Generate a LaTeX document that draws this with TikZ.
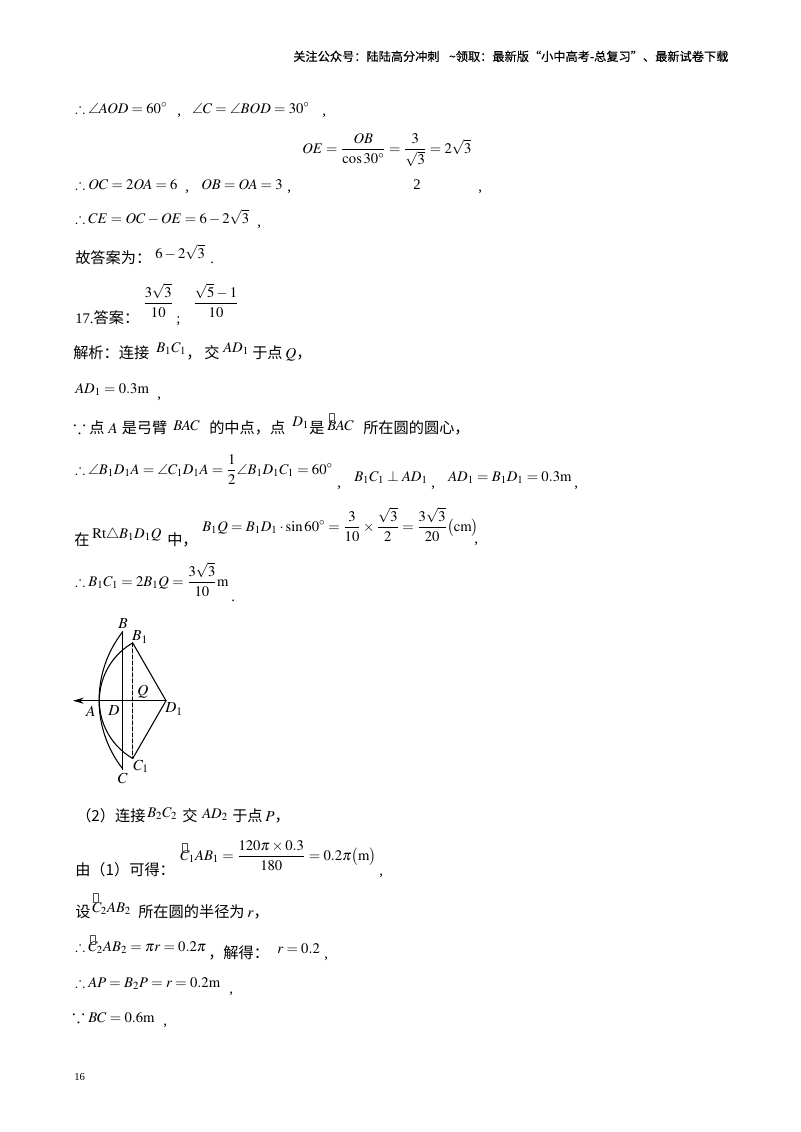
\documentclass[tikz,border=0pt]{standalone}
\usepackage{amsmath,amssymb}
\usepackage{mathptmx}
\usepackage[no-math]{fontspec}
\setmainfont{Liberation Serif}
\newfontfamily\cjk{Noto Sans CJK SC}
\newfontfamily\cjkhead[FakeBold=0.3]{Noto Sans CJK SC}
\usetikzlibrary{arrows.meta}
\tikzset{
	txt/.style={anchor=base west,inner sep=0pt,font=\fontsize{11}{13}\selectfont},
	cnt/.style={anchor=base west,inner sep=0pt,font=\cjk\fontsize{11.4}{13}\selectfont},
	lab/.style={inner sep=0pt,font=\fontsize{11.5}{13}\selectfont},
	fig/.style={line width=0.8pt},
	tofu/.style={draw=black!70,line width=0.3pt,minimum width=4pt,minimum height=7pt,inner sep=0pt}
}
\begin{document}
\begin{tikzpicture}[x=0.75pt,y=0.75pt,>={Stealth[length=8pt,width=4.5pt]},line join=round,line cap=round]
	\useasboundingbox (0,0) rectangle (800,-1132);
	\fill[white] (0,0) rectangle (800,-1132);
	% header
	\node[anchor=base west,inner sep=0pt,font=\cjkhead\fontsize{9.15}{11}\selectfont] (head) at (293,-61) {关注公众号：陆陆高分冲刺\hspace{7pt}\textasciitilde 领取：最新版“小中高考-总复习”、最新试卷下载};
	% first block
	\node[txt] (a1) at (75,-113) {$\therefore\angle AOD=60^\circ$};
	\node[txt] (a2) at (177,-115) {,};
	\node[txt] (a3) at (192,-113) {$\angle C=\angle BOD=30^\circ$};
	\node[txt] (a4) at (322,-115) {,};
	\node[txt] (b1) at (302,-153) {$OE=\dfrac{OB}{\cos 30^\circ}=\dfrac{3}{\sqrt3}=2\sqrt3$};
	\node[txt] (b2) at (413,-189) {2};
	\node[txt] (b3) at (478,-191) {,};
	\node[txt] (c1) at (75,-189) {$\therefore OC=2OA=6$};
	\node[txt] (c2) at (185,-191) {,};
	\node[txt] (c3) at (201,-189) {$OB=OA=3$};
	\node[txt] (c4) at (287,-191) {,};
	\node[txt] (d1) at (75,-223) {$\therefore CE=OC-OE=6-2\sqrt3$};
	\node[txt] (d2) at (257,-226) {,};
	\node[cnt] (e1) at (75,-263) {故答案为：};
	\node[txt] (e2) at (155,-258) {$6-2\sqrt3$};
	\node[txt] (e3) at (210,-263) {.};
	\node[txt] (f1) at (143,-307) {$\dfrac{3\sqrt3}{10}$};
	\node[txt] (f2) at (193,-307) {$\dfrac{\sqrt5-1}{10}$};
	\node[cnt] (f3) at (75,-323) {{\rmfamily\fontsize{11}{13}\selectfont 17.}答案：};
	\node[txt] (f4) at (176,-323) {;};
	% analysis
	\node[cnt] (g1) at (73,-358) {解析：连接};
	\node[txt] (g2) at (156,-352) {$B_1C_1$};
	\node[cnt] (g3) at (186,-358) {，};
	\node[cnt] (g4) at (204,-358) {交};
	\node[txt] (g5) at (223,-352) {$AD_1$};
	\node[cnt] (g6) at (252,-358) {于点\hspace{2pt}$Q$，};
	\node[txt] (h1) at (75,-393) {$AD_1=0.3\mathrm{m}$};
	\node[txt] (h2) at (157,-398) {,};
	\node[txt,font=\fontsize{14}{16}\selectfont] (i1) at (73,-433) {$\because$};
	\node[cnt] (i2) at (89,-433) {点\hspace{3pt}$A$\hspace{3pt}是弓臂};
	\node[txt] (i3) at (173,-430) {$BAC$};
	\node[cnt] (i4) at (209,-433) {的中点，点};
	\node[txt] (i5) at (292,-426) {$D_1$};
	\node[cnt] (i6) at (309,-433) {是};
	\node[txt] (i7) at (327,-430) {$BAC$};
	\node[tofu] (i8) at (331.5,-417.5) {};
	\node[cnt] (i9) at (363,-433) {所在圆的圆心，};
	\node[txt] (j1) at (75,-474) {$\therefore\angle B_1D_1A=\angle C_1D_1A=\dfrac{1}{2}\angle B_1D_1C_1=60^\circ$};
	\node[txt] (j2) at (337,-487) {,};
	\node[txt] (j3) at (354,-481) {$B_1C_1\perp AD_1$};
	\node[txt] (j4) at (431,-487) {,};
	\node[txt] (j5) at (448,-481) {$AD_1=B_1D_1=0.3\mathrm{m}$};
	\node[txt] (j6) at (574,-487) {,};
	\node[cnt] (k1) at (74,-545) {在};
	\node[txt] (k2) at (92,-538) {$\mathrm{Rt}\triangle B_1D_1Q$};
	\node[cnt] (k3) at (167,-545) {中，};
	\node[txt] (k4) at (202,-531) {$B_1Q=B_1D_1\cdot\sin 60^\circ=\dfrac{3}{10}\times\dfrac{\sqrt3}{2}=\dfrac{3\sqrt3}{20}\bigl(\mathrm{cm}\bigr)$};
	\node[txt] (k5) at (474,-543) {,};
	\node[txt] (l1) at (75,-586) {$\therefore B_1C_1=2B_1Q=\dfrac{3\sqrt3}{10}\mathrm{m}$};
	\node[txt] (l2) at (231,-601) {.};
	% figure
	\coordinate (B) at (122.7,-631.7);
	\coordinate (C) at (122.7,-769.7);
	\coordinate (A) at (99.3,-700.7);
	\coordinate (D) at (122.7,-700.7);
	\coordinate (D1) at (166,-700.7);
	\coordinate (B1) at (132.7,-642.9);
	\coordinate (C1) at (132.7,-758.5);
	\coordinate (tip) at (73,-700.7);
	\draw[fig] (B) arc[start angle=142,end angle=218,radius=111.4];
	\draw[fig] (B1) arc[start angle=120,end angle=240,radius=66.7];
	\draw[fig] (B) -- (C);
	\draw[fig] (B1) -- (D1) -- (C1);
	\draw[fig,dash pattern=on 3pt off 1.5pt] (B1) -- (C1);
	\draw[fig,->] (D1) -- (tip);
	\node[lab] (lA) at (90.7,-711) {$A$};
	\node[lab] (lB) at (123,-624) {$B$};
	\node[lab] (lC) at (122.7,-778) {$C$};
	\node[lab] (lD) at (114,-711) {$D$};
	\node[lab] (lQ) at (143,-692) {$Q$};
	\node[lab] (lB1) at (140,-637) {$B_1$};
	\node[lab] (lC1) at (141,-766) {$C_1$};
	\node[lab] (lD1) at (174,-709) {$D_1$};
	% part two
	\node[cnt] (m1) at (76,-821) {（2）连接};
	\node[txt] (m2) at (147,-817) {$B_2C_2$};
	\node[cnt] (m3) at (182,-821) {交};
	\node[txt] (m4) at (202,-818) {$AD_2$};
	\node[cnt] (m5) at (232,-821) {于点\hspace{2pt}$P$，};
	\node[cnt] (n1) at (75,-875) {由（1）可得：};
	\node[txt] (n2) at (180,-860) {$C_1AB_1=\dfrac{120\pi\times0.3}{180}=0.2\pi\bigl(\mathrm{m}\bigr)$};
	\node[tofu] (n3) at (185,-848) {};
	\node[txt] (n4) at (379,-875) {,};
	\node[cnt] (o1) at (75,-917) {设};
	\node[txt] (o2) at (92,-912) {$C_2AB_2$};
	\node[tofu] (o3) at (96,-898) {};
	\node[cnt] (o4) at (138,-917) {所在圆的半径为\hspace{2pt}$r$，};
	\node[txt] (p1) at (75,-951) {$\therefore C_2AB_2=\pi r=0.2\pi$};
	\node[tofu] (p2) at (93,-939.5) {};
	\node[cnt] (p3) at (208,-958) {，解得：};
	\node[txt] (p4) at (277,-953) {$r=0.2$};
	\node[txt] (p5) at (324,-958) {,};
	\node[txt] (q1) at (75,-987) {$\therefore AP=B_2P=r=0.2\mathrm{m}$};
	\node[txt] (q2) at (229,-993) {,};
	\node[txt,font=\fontsize{14}{16}\selectfont] (r0) at (72,-1022) {$\because$};
	\node[txt] (r1) at (88,-1022) {$BC=0.6\mathrm{m}$};
	\node[txt] (r2) at (163,-1025) {,};
	\node[anchor=base west,inner sep=0pt,font=\fontsize{8}{9}\selectfont] (pg) at (74,-1080) {16};
\end{tikzpicture}
\end{document}
